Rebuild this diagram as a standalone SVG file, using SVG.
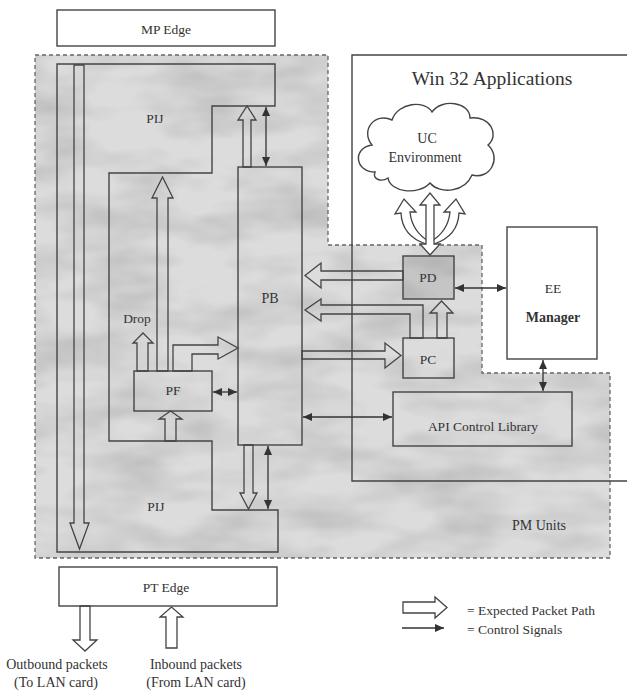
<svg xmlns="http://www.w3.org/2000/svg" width="627" height="693" viewBox="0 0 627 693" font-family="Liberation Serif, DejaVu Serif, serif">
<style>
  text { font-family: "Liberation Serif", "DejaVu Serif", serif; fill: #333; }
  .lbl { font-size: 13.5px; text-anchor: middle; }
  .box { fill: none; stroke: #444; stroke-width: 1.4; }
  .wbox { fill: #fff; stroke: #444; stroke-width: 1.4; }
  .line { fill: none; stroke: #444; stroke-width: 1.4; }
  .pkt { fill: none; stroke: #444; stroke-width: 1.3; stroke-linejoin: miter; }
  .pktw { fill: #fff; stroke: #444; stroke-width: 1.3; }
  .ctl { fill: none; stroke: #333; stroke-width: 1.3; marker-start: url(#ah); marker-end: url(#ah); }
</style>
<defs>
  <marker id="ah" viewBox="0 0 9 8" refX="9" refY="4" markerWidth="9" markerHeight="8" markerUnits="userSpaceOnUse" orient="auto-start-reverse">
    <path d="M0,0 L9,4 L0,8 Z" fill="#333"/>
  </marker>
  <filter id="mottle" x="0" y="0" width="100%" height="100%">
    <feTurbulence type="fractalNoise" baseFrequency="0.012 0.03" numOctaves="3" seed="7" result="n"/>
    <feColorMatrix in="n" type="matrix" values="0 0 0 0 0.5  0 0 0 0 0.5  0 0 0 0 0.5  0 0 0 1.8 -0.65" result="c"/>
    <feComposite in="c" in2="SourceGraphic" operator="in"/>
  </filter>
</defs>
<rect width="627" height="693" fill="#fff"/>

<!-- PM Units gray region -->
<g id="pm-units">
  <path d="M35,55 H328 V245 H482 V373 H610 V558 H35 Z" fill="#dcdcdc"/>
  <path d="M35,55 H328 V245 H482 V373 H610 V558 H35 Z" fill="#000" filter="url(#mottle)"/>
  <path d="M35,55 H328 V245 H482 V373 H610 V558 H35 Z" fill="none" stroke="#666" stroke-width="1.3" stroke-dasharray="4 3"/>
  <text class="lbl" x="539" y="530" font-size="14" style="font-size:14px">PM Units</text>
</g>

<!-- Win 32 Applications -->
<g id="win32">
  <path d="M627,55 H352 V481 H627" class="line"/>
  <text x="492" y="85" text-anchor="middle" style="font-size:19.5px;text-anchor:middle">Win 32 Applications</text>
</g>

<g id="mp-edge">
  <rect x="57" y="10" width="218" height="36" class="wbox"/>
  <text class="lbl" x="166" y="34">MP Edge</text>
</g>

<g id="pij">
  <path d="M57,64 H275 V106 H212 V173 H109 V441 H212 V510 H278 V552 H57 Z" class="box"/>
  <text class="lbl" x="155" y="123">PIJ</text>
  <text class="lbl" x="156" y="511">PIJ</text>
</g>

<g id="pb">
  <rect x="238" y="167" width="64" height="278" class="box"/>
  <text class="lbl" x="270" y="303" style="font-size:14px">PB</text>
</g>

<g id="pf">
  <rect x="134" y="371" width="78" height="40" class="box"/>
  <text class="lbl" x="173" y="395">PF</text>
</g>

<g id="drop">
  <text class="lbl" x="137" y="323">Drop</text>
</g>

<g id="pd">
  <rect x="403" y="256" width="51" height="43" fill="#000" fill-opacity="0.1" stroke="#444" stroke-width="1.4"/>
  <text class="lbl" x="428" y="282">PD</text>
</g>

<g id="pc">
  <rect x="403" y="338" width="51" height="40" class="box"/>
  <text class="lbl" x="428" y="364">PC</text>
</g>

<g id="ee-manager">
  <rect x="507" y="227" width="90" height="132" class="wbox"/>
  <text class="lbl" x="553" y="293">EE</text>
  <text class="lbl" x="553" y="322" style="font-weight:bold;font-size:14px">Manager</text>
</g>

<g id="api">
  <rect x="393" y="392" width="179" height="54" class="box"/>
  <text class="lbl" x="483" y="431">API Control Library</text>
</g>

<g id="uc-env">
  <path d="M375,172 C355,172 352,148 372,145 C360,130 375,112 392,120 C398,102 425,100 432,112 C442,98 470,102 470,118 C490,115 500,135 488,145 C502,158 490,180 472,175 C465,192 440,195 430,183 C418,196 390,192 388,178 C382,182 372,180 375,172 Z" class="wbox"/>
  <text class="lbl" x="427" y="143" style="font-size:14px">UC</text>
  <text class="lbl" x="425" y="162" style="font-size:14px">Environment</text>
</g>

<g id="pt-edge">
  <rect x="59" y="567" width="218" height="39" class="wbox"/>
  <text class="lbl" x="166" y="592">PT Edge</text>
</g>

<g id="connectors">
  <polygon class="pkt" points="74,65 84,65 84,523 89,523 79.5,549 70,523 74,523"/>
  <polygon class="pkt" points="243,167 243,120 238,120 247,106 256,120 251,120 251,167"/>
  <polygon class="pkt" points="157,371 157,198 152,198 162.5,177 173,198 168,198 168,371"/>
  <polygon class="pkt" points="137,371 137,343 133,343 143,333 153,343 148,343 148,371"/>
  <polygon class="pkt" points="173,371 173,345 218,345 218,337 238,348 218,359 218,354 192,354 192,371"/>
  <polygon class="pkt" points="165,441 165,419 159,419 170.5,411 182,419 176,419 176,441"/>
  <polygon class="pkt" points="244,445 244,493 240,493 248.5,509 257,493 253,493 253,445"/>
  <polygon class="pkt" points="403,271 321,271 321,263 305,275.5 321,288 321,280 403,280"/>
  <polygon class="pkt" points="423,338 423,305 321,305 321,299 305,310 321,321 321,314 410,314 410,338"/>
  <polygon class="pkt" points="437,338 437,313 430,313 441.5,301 453,313 447,313 447,338"/>
  <polygon class="pkt" points="302,351 385,351 385,343 401,355.5 385,368 385,359 302,359"/>
  <path class="pktw" d="M426,244 Q402,236 401,213 L395,214 L404,199 L416,212 L410,212 Q412,232 430,242 Z"/>
  <path class="pktw" d="M434,244 Q458,236 459,213 L465,214 L456,199 L444,212 L450,212 Q448,232 430,242 Z"/>
  <polygon class="pktw" points="426,205 420,205 430,193 440,205 434,205 434,244 440,244 430,255 420,244 426,244"/>
  <polygon class="pkt" points="80,606 90,606 90,640 97,640 85,651 73,640 80,640"/>
  <polygon class="pkt" points="166,648 166,617 160,617 171.5,607 183,617 177,617 177,648"/>
  <line class="ctl" x1="266" y1="107" x2="266" y2="166"/>
  <line class="ctl" x1="268" y1="446" x2="268" y2="509"/>
  <line class="ctl" x1="213" y1="392" x2="237" y2="392"/>
  <line class="ctl" x1="303" y1="417" x2="392" y2="417"/>
  <line class="ctl" x1="455" y1="288" x2="506" y2="288"/>
  <line class="ctl" x1="543" y1="360" x2="543" y2="391"/>
</g>

<g id="legend">
  <polygon class="pktw" points="403,602 435,602 435,597 447,607.5 435,618 435,613 403,613"/>
  <line x1="402" y1="628" x2="444" y2="628" stroke="#333" stroke-width="1.3" marker-end="url(#ah)"/>
  <text x="467" y="615" style="font-size:13.5px">= Expected Packet Path</text>
  <text x="467" y="634" style="font-size:13.5px">= Control Signals</text>
</g>

<g id="io-labels">
  <text class="lbl" x="57" y="669" style="font-size:14px">Outbound packets</text>
  <text class="lbl" x="56" y="687" style="font-size:14px">(To LAN card)</text>
  <text class="lbl" x="196" y="669" style="font-size:14px">Inbound packets</text>
  <text class="lbl" x="196" y="687" style="font-size:14px">(From LAN card)</text>
</g>
</svg>
